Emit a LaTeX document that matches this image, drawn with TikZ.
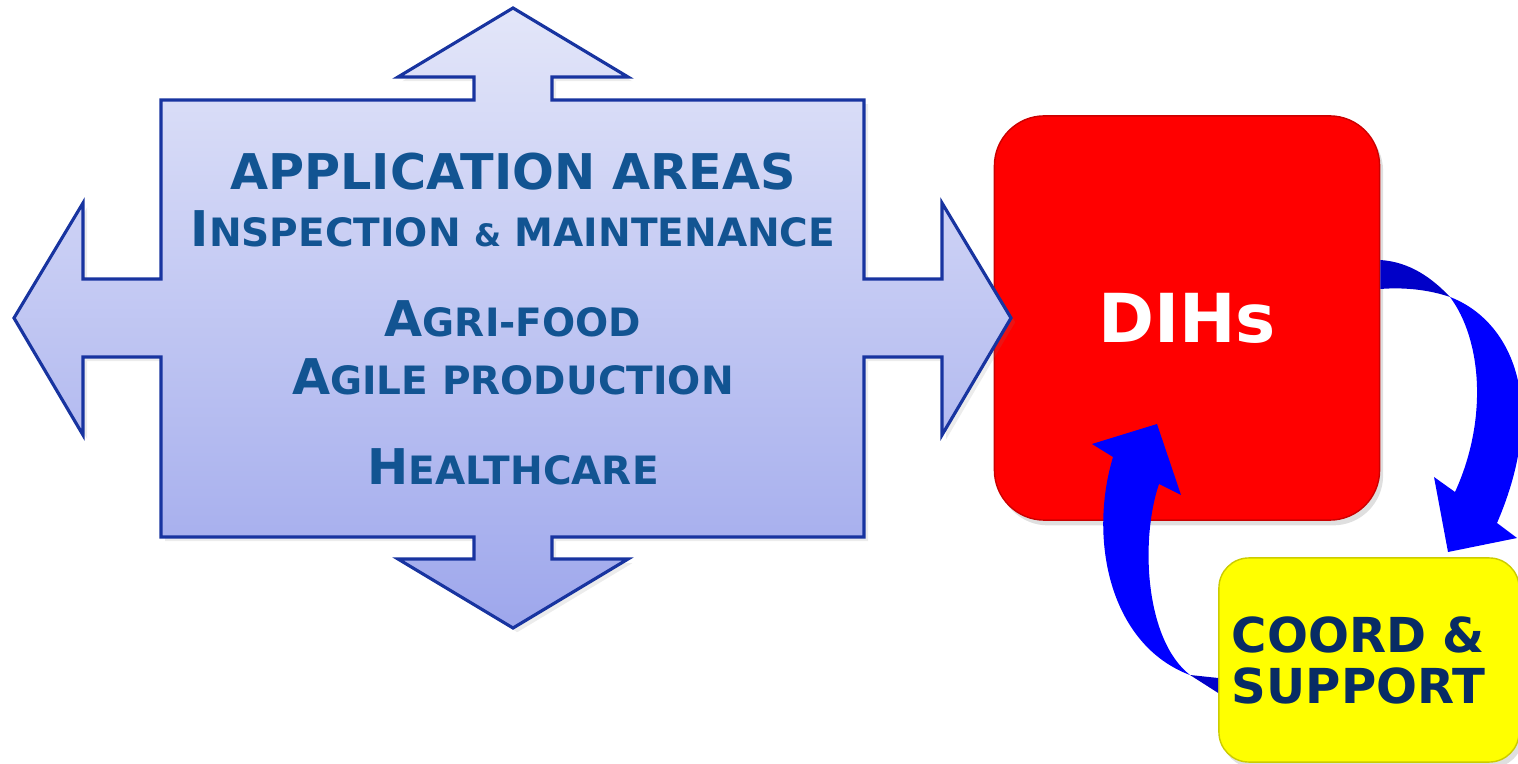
\documentclass[tikz,border=0pt]{standalone}
\usepackage{fontspec}
\setmainfont{DejaVu Sans}
\usepackage{tikz}
\usetikzlibrary{shadows}
\definecolor{areatext}{RGB}{18,84,146}
\definecolor{arealine}{RGB}{24,52,160}
\definecolor{areatop}{RGB}{227,230,249}
\definecolor{areabottom}{RGB}{158,167,236}
\definecolor{coordtext}{RGB}{8,44,100}
\definecolor{hubred}{RGB}{255,0,0}
\definecolor{supportyellow}{RGB}{255,255,0}
\definecolor{loopblue}{RGB}{0,0,255}
\definecolor{loopback}{RGB}{0,0,200}
\newcommand{\bigsz}{\fontsize{14}{16}\selectfont}
\newcommand{\smsz}{\fontsize{11.1}{13}\selectfont}
\newcommand{\ampsz}{\fontsize{8.8}{10}\selectfont}

\begin{document}
\begin{tikzpicture}[x=0.01cm, y=-0.01cm,
  areas/.style={draw=arealine, line width=0.9pt, top color=areatop, bottom color=areabottom, drop shadow={shadow xshift=1.2pt, shadow yshift=-1.2pt, opacity=0.15}},
  area/.style={anchor=base, inner sep=0, text=areatext, font=\bfseries\smsz},
  hub/.style={rounded corners=0.5cm, fill=hubred, draw=hubred!80!black, minimum width=3.85cm, minimum height=4.04cm, text=white, font=\bfseries\fontsize{19.2}{21}\selectfont, drop shadow={shadow xshift=1pt, shadow yshift=-1.5pt, opacity=0.25}},
  support/.style={rounded corners=0.3cm, fill=supportyellow, draw=supportyellow!80!black, minimum width=3.0cm, minimum height=2.04cm, text width=2.74cm, inner xsep=0.13cm, align=left, text=coordtext, font=\bfseries\fontsize{13.7}{14.5}\selectfont, drop shadow={shadow xshift=1pt, shadow yshift=-1.5pt, opacity=0.25}},
  loop/.style={fill=loopblue},
  loopbehind/.style={fill=loopback}]
\useasboundingbox (0,0) rectangle (1518,764);

\node[hub] (dih) at (1187,318) {DIHs};
\node[support] (coord) at (1369,660) {COORD \&\\SUPPORT};

\path[areas] (513,8) -- (628,77) -- (552,77) -- (552,100) -- (864,100) -- (864,279) -- (942,279) -- (942,203) -- (1011,318) -- (942,435) -- (942,357) -- (864,357) -- (864,537) -- (552,537) -- (552,559) -- (628,559) -- (513,628) -- (398,559) -- (474,559) -- (474,537) -- (161,537) -- (161,357) -- (83,357) -- (83,435) -- (14,318) -- (83,203) -- (83,279) -- (161,279) -- (161,100) -- (474,100) -- (474,77) -- (398,77) -- cycle;

\node[area] (title) at (513,190) {\bigsz APPLICATION AREAS};
\node[area] (inspect) at (513,247) {{\bigsz I}NSPECTION {\ampsz\&} MAINTENANCE};
\node[area] (agri) at (513,337) {{\bigsz A}GRI-FOOD};
\node[area] (agile) at (513,395) {{\bigsz A}GILE PRODUCTION};
\node[area] (health) at (513,485) {{\bigsz H}EALTHCARE};

\coordinate (twist1) at (1450,297);
\coordinate (twist2) at (1190,675);
\fill[loopbehind] ([shift={(0,-58)}]dih.east) .. controls (1410,262) and (1432,278) .. (twist1) .. controls (1430,290) and (1405,287) .. ([shift={(0,-29)}]dih.east) -- cycle;
\fill[loop] (twist1) .. controls (1510,320) and (1550,400) .. (1497,523) -- (1517,538) -- (1448,552) -- (1434,477) -- (1455,492) .. controls (1488,420) and (1482,340) .. (twist1) -- cycle;
\fill[loopbehind] (twist2) -- ([shift={(0,18)}]coord.west) -- ([shift={(0,33)}]coord.west) -- cycle;
\fill[loop] (twist2) .. controls (1110,645) and (1088,540) .. (1113,457) -- (1092,444) -- (1157,424) -- (1181,495) -- (1159,484) .. controls (1140,540) and (1145,640) .. (twist2) -- cycle;
\end{tikzpicture}
\end{document}
